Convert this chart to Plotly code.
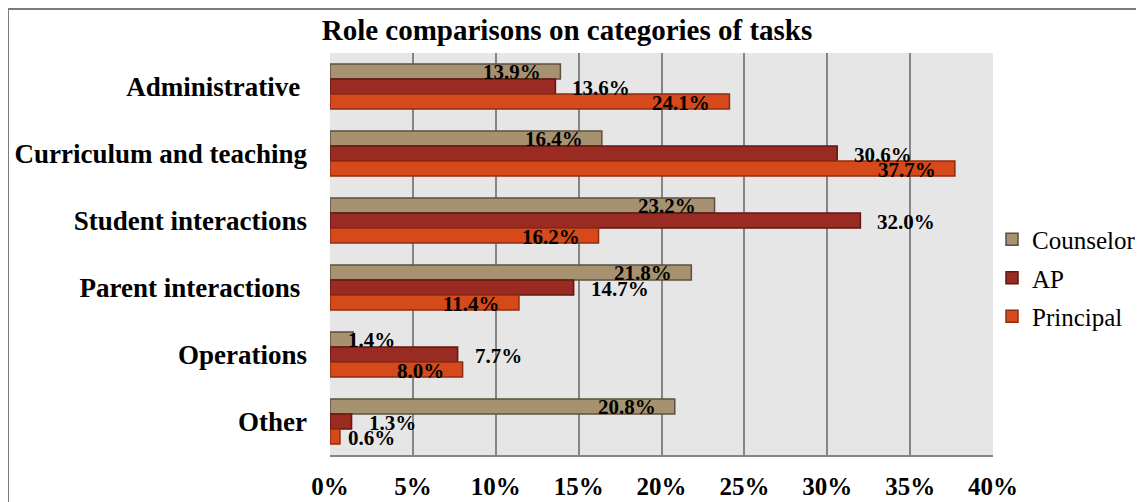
import plotly.graph_objects as go

# ---- data ----
categories = ["Administrative", "Curriculum and teaching", "Student interactions",
              "Parent interactions", "Operations", "Other"]
counselor = [13.9, 16.4, 23.2, 21.8, 1.4, 20.8]
ap = [13.6, 30.6, 32.0, 14.7, 7.7, 1.3]
principal = [24.1, 37.7, 16.2, 11.4, 8.0, 0.6]
x_ticks = [0, 5, 10, 15, 20, 25, 30, 35, 40]
x_tick_labels = [f"{t}%" for t in x_ticks]

# display names (trailing nbsp on two labels as in the original)
display_names = {"Administrative": "Administrative\u00a0",
                 "Parent interactions": "Parent interactions\u00a0"}
cat_disp = [display_names.get(c, c) for c in categories]

# ---- layout geometry ----
# the page body has an 8px margin, so the figure is placed at (8, 8)
OFF = 8
W, H = 1144 - OFF, 502 - OFF
ML, MT = 330 - OFF, 53 - OFF
PLOT_R, PLOT_B = 993 - OFF, 455 - OFF
MR, MB = W - PLOT_R, H - PLOT_B
PW, PH = W - ML - MR, H - MT - MB
BARGAP = 0.328
pitch = PH / len(categories)
bar_px = pitch * (1 - BARGAP) / 3

FONT = "Liberation Serif, Times New Roman, serif"

series = [
    # name, values, fill, outline, label mode, yshift (bar centre offset in px)
    ("Counselor", counselor, "#a69170", "#5c5040", "inside", bar_px),
    ("AP", ap, "#9a2b22", "#641710", "outside", 0),
    ("Principal", principal, "#d5491a", "#8e2c10", "inside", -bar_px),
]

fig = go.Figure()
annotations = []
for name, vals, fill, line, mode, ysh in series:
    fig.add_trace(go.Bar(
        y=cat_disp, x=vals, name=name, orientation="h", legendgroup=name,
        marker=dict(color=fill, line=dict(color=line, width=1.5)),
        hoverinfo="skip",
    ))
    for c, v in zip(cat_disp, vals):
        txt = f"{v:.1f}%"
        if mode == "outside":
            xa, xs, xv = "left", 15, v
        elif v < 3:
            xa, xs, xv = "left", 16, 0
        else:
            xa, xs, xv = "right", -17, v
        annotations.append(dict(
            x=xv, y=c, xref="x", yref="y", text=txt, showarrow=False,
            xanchor=xa, yanchor="middle", xshift=xs, yshift=ysh - 1,
            font=dict(family=FONT, size=21, color="black", weight="bold"),
        ))


def px_to_paper_x(px):
    return (px - OFF - ML) / PW


def px_to_paper_y(py):
    return (PLOT_B - (py - OFF)) / PH


# outer frame (extends beyond right/bottom edge like the original)
shapes = [dict(type="rect", xref="paper", yref="paper",
               x0=px_to_paper_x(8), x1=px_to_paper_x(1144 + 30),
               y0=px_to_paper_y(502 + 30), y1=px_to_paper_y(9),
               line=dict(color="#7a7a7a", width=2), fillcolor="rgba(0,0,0,0)",
               layer="below")]

fig.update_layout(
    width=W, height=H,
    margin=dict(l=ML, r=MR, t=MT, b=MB, autoexpand=False),
    paper_bgcolor="white", plot_bgcolor="#e6e6e6",
    barmode="group", bargap=BARGAP, bargroupgap=0,
    title=dict(text="<b>Role comparisons on categories of tasks</b>",
               x=(567 - OFF) / W, xref="container", xanchor="center",
               y=1 - (30 - OFF) / H, yref="container", yanchor="middle",
               font=dict(family=FONT, size=29, color="black")),
    font=dict(family=FONT, color="black"),
    xaxis=dict(range=[0, 40], tickvals=x_ticks, ticktext=x_tick_labels,
               showgrid=True, gridcolor="#858585", gridwidth=1.5,
               zeroline=False, showline=True, linecolor="#858585", linewidth=1.5,
               ticks="", ticklabelstandoff=8,
               tickfont=dict(family=FONT, size=25, color="black", weight="bold")),
    yaxis=dict(categoryorder="array", categoryarray=cat_disp,
               autorange="reversed",
               showgrid=False, zeroline=False, showline=False, ticks="",
               ticklabelstandoff=22,
               tickfont=dict(family=FONT, size=27, color="black", weight="bold")),
    legend=dict(x=px_to_paper_x(992), xanchor="left", xref="paper",
                y=px_to_paper_y(278), yanchor="middle",
                traceorder="grouped", tracegroupgap=3,
                font=dict(family=FONT, size=25, color="black"),
                bgcolor="rgba(0,0,0,0)", itemclick=False),
    annotations=annotations,
    shapes=shapes,
    showlegend=True,
)

fig.write_html("out.html")
